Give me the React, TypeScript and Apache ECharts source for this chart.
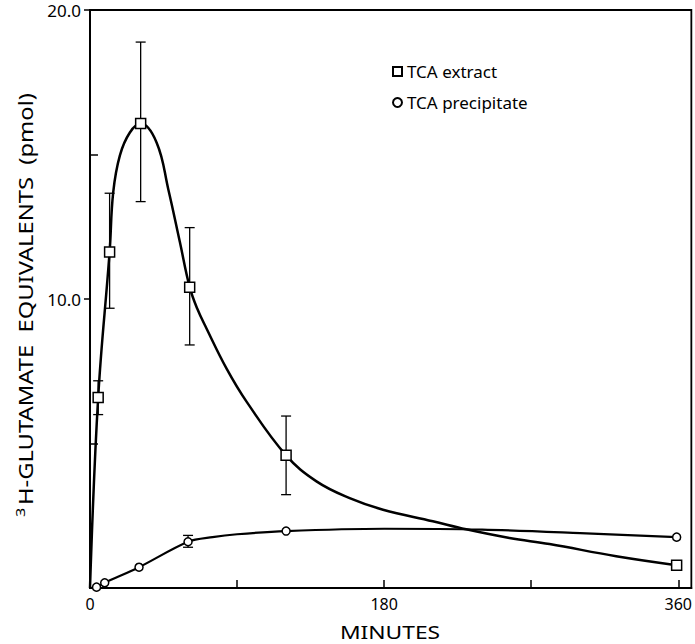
import React, { useEffect, useRef } from "react";
import * as echarts from "echarts";

// Measured points (minutes, pmol)
const extractTimes = [5, 12, 31, 61, 120, 359];
const extractValues = [6.59, 11.63, 16.07, 10.41, 4.59, 0.79];
const extractErrLow = [6.0, 9.68, 13.37, 8.41, 3.23, null];
const extractErrHigh = [7.17, 13.66, 18.89, 12.47, 5.95, null];

const precipTimes = [4, 9, 30, 60, 120, 359];
const precipValues = [0.03, 0.18, 0.72, 1.6, 1.97, 1.76];
const precipErrLow = [null, null, null, 1.41, null, null];
const precipErrHigh = [null, null, null, 1.82, null, null];

// Hand-drawn fitted curves
const extractCurveT = [0, 5, 12, 14.2, 18.3, 24.4, 31, 40.8, 47.9, 55, 61, 65.6, 71.3, 83.5, 95.8, 120, 138.6, 158.9, 179.3, 209.8, 230.2, 256.7, 281.2, 322, 359];
const extractCurveY = [0, 6.59, 11.63, 13.69, 14.97, 15.76, 16.07, 15.41, 13.8, 11.97, 10.41, 9.67, 8.98, 7.6, 6.45, 4.59, 3.69, 3.11, 2.71, 2.31, 2.03, 1.73, 1.52, 1.1, 0.79];
const precipCurveT = [0, 4, 9, 30, 60, 75, 90, 120, 180, 240, 300, 359];
const precipCurveY = [0, 0.03, 0.18, 0.72, 1.6, 1.76, 1.86, 1.97, 2.05, 2.02, 1.9, 1.76];

const xTickLabels = [0, 180, 360];
const yTickLabels = [10, 20];
const yInnerTicks = [5, 15];
const yOuterTicks = [10, 20];

const xTitle = "MINUTES";
const yTitleSup = "3";
const yTitle = "H-GLUTAMATE  EQUIVALENTS  (pmol)";

const FONT = "Noto Sans";

export default function App() {
  const ref = useRef<HTMLDivElement>(null);
  useEffect(() => {
    document.body.style.margin = "0";
    const chart = echarts.init(ref.current!, null, { renderer: "svg" });
    const zip = (a: number[], b: (number | null)[]) => a.map((v, i) => [v, b[i]]);
    const errData = (t: number[], lo: (number | null)[], hi: (number | null)[]) =>
      t.map((v, i) => [v, lo[i], hi[i]]).filter((d) => d[1] != null);
    const errRender = (params: any, api: any) => {
      const x = api.value(0);
      const p1 = api.coord([x, api.value(1)]);
      const p2 = api.coord([x, api.value(2)]);
      const w = 5;
      const st = { stroke: "#000", lineWidth: 1.3 };
      return {
        type: "group",
        children: [
          { type: "line", shape: { x1: p1[0], y1: p1[1], x2: p2[0], y2: p2[1] }, style: st },
          { type: "line", shape: { x1: p1[0] - w, y1: p1[1], x2: p1[0] + w, y2: p1[1] }, style: st },
          { type: "line", shape: { x1: p2[0] - w, y1: p2[1], x2: p2[0] + w, y2: p2[1] }, style: st },
        ],
      };
    };
    const axisCommon = {
      type: "value",
      splitLine: { show: false },
    };
    chart.setOption({
      animation: false,
      backgroundColor: "#fff",
      grid: { left: 90, right: 3, top: 10, bottom: 56, show: true, borderColor: "#000", borderWidth: 1.8, backgroundColor: "transparent" },
      legend: {
        orient: "vertical",
        left: 387,
        top: 58,
        itemWidth: 9,
        itemHeight: 9,
        itemGap: 14,
        textStyle: { fontFamily: FONT, fontSize: 17, color: "#000" },
        data: [
          { name: "TCA extract", icon: "rect" },
          { name: "TCA precipitate", icon: "circle" },
        ],
      },
      graphic: [
        {
          type: "text",
          x: 390,
          y: 632,
          scaleX: 1.2,
          style: {
            text: xTitle,
            fontFamily: FONT,
            fontSize: 19,
            fill: "#000",
            align: "center",
            verticalAlign: "middle",
          },
        },
        {
          type: "text",
          x: 25,
          y: 305,
          rotation: Math.PI / 2,
          scaleX: 1.25,
          style: {
            text: "{sup|" + yTitleSup + "}{main|" + yTitle + "}",
            align: "center",
            verticalAlign: "middle",
            rich: {
              main: { fontFamily: FONT, fontSize: 19, fill: "#000" },
              sup: { fontFamily: FONT, fontSize: 13, fill: "#000", padding: [0, 2, 10, 0] },
            },
          },
        },
      ],
      xAxis: {
        ...axisCommon,
        min: 0,
        max: 368,
        interval: 90,
        axisLine: { lineStyle: { color: "#000", width: 2 } },
        axisTick: { inside: true, length: 8, lineStyle: { color: "#000", width: 1.5 } },
        axisLabel: {
          fontFamily: FONT,
          fontSize: 16,
          color: "#000",
          margin: 8,
          formatter: (v: number) => (xTickLabels.includes(v) ? String(v) : ""),
          showMaxLabel: false,
        },
      },
      yAxis: [
        {
          ...axisCommon,
          min: 0,
          max: 20,
          interval: 5,
          axisLine: { lineStyle: { color: "#000", width: 2 } },
          axisTick: { inside: true, length: 8, customValues: yInnerTicks, lineStyle: { color: "#000", width: 1.5 } },
          axisLabel: {
            fontFamily: FONT,
            fontSize: 17,
            color: "#000",
            margin: 9,
            customValues: yTickLabels,
            formatter: (v: number) => v.toFixed(1),
          },
        },
        {
          ...axisCommon,
          min: 0,
          max: 20,
          interval: 5,
          position: "left",
          axisLine: { show: false },
          axisLabel: { show: false },
          axisTick: { inside: false, length: 6, customValues: yOuterTicks, lineStyle: { color: "#000", width: 1.5 } },
        },
      ],
      series: [
        {
          name: "extract curve",
          type: "line",
          data: zip(extractCurveT, extractCurveY),
          smooth: 0.4,
          showSymbol: false,
          symbol: "none",
          lineStyle: { color: "#000", width: 2.5 },
          z: 2,
          silent: true,
        },
        {
          name: "precipitate curve",
          type: "line",
          data: zip(precipCurveT, precipCurveY),
          smooth: 0.3,
          showSymbol: false,
          symbol: "none",
          lineStyle: { color: "#000", width: 2.2 },
          z: 2,
          silent: true,
        },
        {
          name: "extract err",
          type: "custom",
          renderItem: errRender,
          data: errData(extractTimes, extractErrLow, extractErrHigh),
          encode: { x: 0, y: [1, 2] },
          z: 1,
          silent: true,
        },
        {
          name: "precip err",
          type: "custom",
          renderItem: errRender,
          data: errData(precipTimes, precipErrLow, precipErrHigh),
          encode: { x: 0, y: [1, 2] },
          z: 1,
          silent: true,
        },
        {
          name: "TCA extract",
          type: "scatter",
          data: zip(extractTimes, extractValues),
          symbol: "rect",
          symbolSize: 10,
          itemStyle: { color: "#fff", borderColor: "#000", borderWidth: 1.5, opacity: 1 },
          z: 5,
        },
        {
          name: "TCA precipitate",
          type: "scatter",
          data: zip(precipTimes, precipValues),
          symbol: "circle",
          symbolSize: 8,
          itemStyle: { color: "#fff", borderColor: "#000", borderWidth: 1.5, opacity: 1 },
          z: 5,
        },
      ],
    });
    return () => chart.dispose();
  }, []);
  return <div ref={ref} style={{ width: 695, height: 644 }} />;
}
